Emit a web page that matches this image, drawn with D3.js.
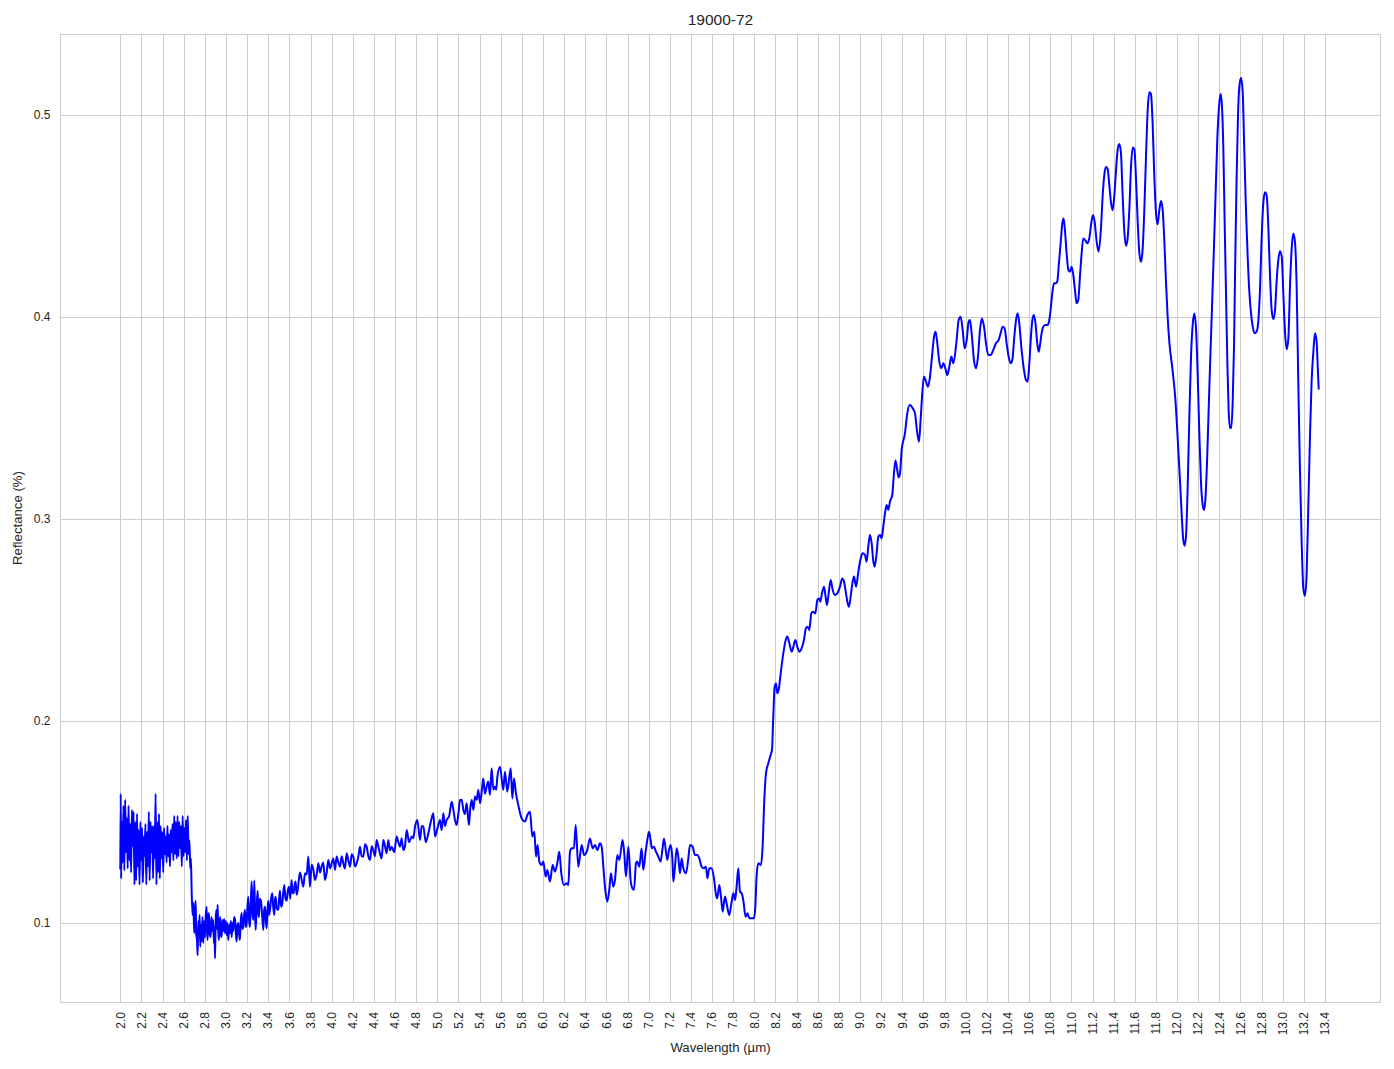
<!DOCTYPE html>
<html>
<head>
<meta charset="utf-8">
<script src="https://cdn.jsdelivr.net/npm/d3@7"></script>
<style>
  html, body { margin: 0; padding: 0; background: #ffffff; }
  svg { display: block; font-family: "Liberation Sans", Arial, sans-serif; }
</style>
</head>
<body>
<svg id="chart" width="1394" height="1069"></svg>
<script>
const chartTitle = "19000-72";
const xLabel = "Wavelength (µm)";
const yLabel = "Reflectance (%)";

const xTicks = [2.0,2.2,2.4,2.6,2.8,3.0,3.2,3.4,3.6,3.8,4.0,4.2,4.4,4.6,4.8,5.0,5.2,5.4,5.6,5.8,
  6.0,6.2,6.4,6.6,6.8,7.0,7.2,7.4,7.6,7.8,8.0,8.2,8.4,8.6,8.8,9.0,9.2,9.4,9.6,9.8,
  10.0,10.2,10.4,10.6,10.8,11.0,11.2,11.4,11.6,11.8,12.0,12.2,12.4,12.6,12.8,13.0,13.2,13.4];
const yTicks = [0.1, 0.2, 0.3, 0.4, 0.5];

// noisy band 2.0 - 2.67 µm
const wlBand1 = [2.000,2.004,2.008,2.015,2.022,2.030,2.038,2.046,2.054,2.062,2.070,2.078,2.086,2.094,2.102,2.110,2.118,2.126,2.134,2.142,2.150,2.158,2.166,2.174,2.182,2.190,2.198,2.206,2.214,2.222,2.230,2.238,2.246,2.254,2.262,2.270,2.278,2.286,2.294,2.302,2.310,2.318,2.326,2.334,2.342,2.350,2.358,2.366,2.374,2.382,2.390,2.398,2.406,2.414,2.422,2.430,2.438,2.446,2.454,2.462,2.470,2.478,2.486,2.494,2.502,2.510,2.518,2.526,2.534,2.542,2.550,2.558,2.566,2.574,2.582,2.590,2.598,2.606,2.614,2.622,2.630,2.638,2.646,2.654,2.662,2.668];
const rBand1 = [0.127,0.164,0.122,0.150,0.130,0.158,0.126,0.161,0.135,0.152,0.127,0.158,0.131,0.149,0.125,0.156,0.138,0.155,0.119,0.150,0.121,0.154,0.128,0.146,0.119,0.150,0.131,0.147,0.120,0.143,0.133,0.149,0.119,0.145,0.128,0.155,0.121,0.150,0.135,0.148,0.122,0.148,0.132,0.164,0.119,0.150,0.125,0.154,0.122,0.148,0.132,0.145,0.125,0.147,0.134,0.143,0.130,0.148,0.133,0.144,0.128,0.146,0.135,0.149,0.131,0.153,0.134,0.150,0.132,0.153,0.133,0.150,0.137,0.148,0.128,0.153,0.133,0.147,0.135,0.151,0.131,0.153,0.134,0.141,0.127,0.132];

// drop and low noisy band 2.67 - 3.70 µm
const wlBand2 = [2.675,2.684,2.691,2.700,2.707,2.713,2.719,2.726,2.732,2.738,2.744,2.750,2.757,2.763,2.770,2.777,2.785,2.793,2.801,2.809,2.817,2.822,2.826,2.832,2.839,2.847,2.855,2.863,2.871,2.878,2.886,2.891,2.896,2.902,2.908,2.914,2.921,2.927,2.934,2.940,2.946,2.952,2.959,2.967,2.975,2.982,2.990,2.998,3.006,3.014,3.022,3.030,3.038,3.046,3.054,3.061,3.069,3.077,3.085,3.093,3.101,3.109,3.117,3.125,3.132,3.140,3.148,3.156,3.164,3.172,3.180,3.188,3.196,3.203,3.211,3.219,3.227,3.235,3.243,3.251,3.259,3.268,3.275,3.281,3.290,3.300,3.306,3.312,3.320,3.331,3.342,3.353,3.361,3.369,3.377,3.385,3.392,3.400,3.408,3.417,3.427,3.438,3.447,3.457,3.463,3.470,3.482,3.495,3.503,3.511,3.522,3.533,3.542,3.552,3.563,3.574,3.585,3.596,3.608,3.621,3.630,3.640,3.650,3.659,3.668,3.678,3.689,3.700];
const rBand2 = [0.1163,0.104,0.110,0.095,0.106,0.111,0.094,0.0916,0.084,0.101,0.093,0.104,0.0883,0.099,0.091,0.103,0.090,0.101,0.093,0.104,0.108,0.095,0.0916,0.102,0.105,0.094,0.093,0.103,0.096,0.1015,0.090,0.098,0.0825,0.100,0.1065,0.097,0.109,0.096,0.0916,0.100,0.103,0.094,0.093,0.1015,0.096,0.102,0.095,0.101,0.094,0.100,0.0916,0.099,0.095,0.101,0.093,0.100,0.096,0.103,0.102,0.095,0.0908,0.099,0.100,0.094,0.0916,0.101,0.105,0.097,0.098,0.104,0.1065,0.098,0.100,0.108,0.113,0.101,0.098,0.110,0.1205,0.105,0.1015,0.121,0.104,0.0966,0.108,0.116,0.105,0.103,0.112,0.111,0.104,0.0966,0.106,0.108,0.101,0.0974,0.106,0.111,0.104,0.1065,0.112,0.1147,0.108,0.104,0.111,0.113,0.107,0.1065,0.112,0.116,0.108,0.1097,0.115,0.1188,0.112,0.111,0.116,0.118,0.112,0.1213,0.115,0.1147,0.119,0.1205,0.114,0.116,0.121,0.125];

// rising slope 3.7 - 5.6 µm
const wlBand3 = [3.732,3.748,3.764,3.779,3.795,3.811,3.827,3.842,3.858,3.874,3.890,3.905,3.921,3.937,3.953,3.968,3.984,4.000,4.016,4.032,4.047,4.063,4.079,4.095,4.110,4.126,4.142,4.158,4.174,4.190,4.205,4.221,4.237,4.253,4.268,4.284,4.300,4.316,4.331,4.347,4.363,4.379,4.394,4.410,4.426,4.441,4.457,4.473,4.489,4.505,4.520,4.536,4.552,4.568,4.592,4.615,4.631,4.647,4.662,4.678,4.694,4.710,4.733,4.757,4.773,4.789,4.811,4.836,4.852,4.867,4.891,4.915,4.938,4.962,4.978,5.002,5.025,5.041,5.057,5.072,5.088,5.112,5.136,5.152,5.167,5.183,5.199,5.214,5.230,5.246,5.262,5.277,5.299,5.312,5.325,5.341,5.356,5.372,5.388,5.404,5.420,5.435,5.451,5.467,5.482,5.498,5.514,5.530,5.546,5.557,5.568];
const rBand3 = [0.118,0.1246,0.1240,0.1329,0.118,0.1290,0.1263,0.1213,0.1240,0.1296,0.1250,0.1279,0.1300,0.1213,0.1250,0.1312,0.1270,0.1296,0.1320,0.1263,0.1329,0.1300,0.1279,0.1330,0.1296,0.1270,0.1345,0.1310,0.1279,0.1340,0.1329,0.1280,0.1296,0.1330,0.1378,0.1330,0.1329,0.1390,0.1378,0.1330,0.1312,0.1380,0.1361,0.1330,0.1411,0.1380,0.1345,0.1320,0.1411,0.1380,0.1345,0.1411,0.1360,0.1378,0.1350,0.1428,0.1400,0.1378,0.1420,0.1361,0.1380,0.1461,0.1400,0.1428,0.1420,0.1477,0.151,0.1411,0.1480,0.1477,0.1400,0.1444,0.1500,0.1543,0.1428,0.1470,0.151,0.1460,0.1543,0.1480,0.151,0.1530,0.160,0.1560,0.151,0.1485,0.1540,0.1609,0.1610,0.156,0.1540,0.1593,0.1485,0.1570,0.1609,0.1560,0.1626,0.1610,0.1659,0.1593,0.1650,0.1716,0.1640,0.1675,0.1700,0.1634,0.1766,0.1660,0.1675,0.1660,0.1724];

// 5.6 - 8.02 µm
const wlBand4 = [5.593,5.624,5.640,5.662,5.694,5.710,5.725,5.744,5.766,5.798,5.829,5.852,5.877,5.899,5.918,5.934,5.949,5.965,5.987,6.003,6.025,6.041,6.066,6.091,6.113,6.135,6.154,6.173,6.198,6.224,6.240,6.255,6.271,6.293,6.309,6.334,6.366,6.388,6.419,6.444,6.470,6.492,6.514,6.539,6.555,6.571,6.586,6.608,6.627,6.643,6.665,6.681,6.703,6.722,6.753,6.769,6.785,6.807,6.829,6.845,6.861,6.880,6.892,6.911,6.933,6.949,6.971,6.987,7.003,7.018,7.031,7.050,7.063,7.091,7.113,7.129,7.145,7.176,7.192,7.208,7.224,7.233,7.249,7.265,7.280,7.296,7.312,7.328,7.353,7.375,7.391,7.416,7.438,7.460,7.479,7.501,7.523,7.542,7.555,7.574,7.596,7.618,7.637,7.649,7.668,7.684,7.700,7.722,7.737,7.763,7.785,7.801,7.817,7.832,7.848,7.864,7.880,7.895,7.917,7.936,7.952,7.974,7.996,8.009,8.021];
const rBand4 = [0.1774,0.1659,0.1749,0.165,0.1766,0.1617,0.1716,0.1642,0.1584,0.1518,0.1502,0.1535,0.1551,0.1428,0.1452,0.1329,0.1386,0.1304,0.1287,0.1304,0.1230,0.1263,0.1205,0.1287,0.1254,0.1296,0.1353,0.1246,0.1188,0.1197,0.1188,0.1353,0.1370,0.1370,0.1485,0.1279,0.1386,0.1337,0.1361,0.1419,0.1370,0.1386,0.1361,0.1395,0.1378,0.1279,0.1180,0.1106,0.1164,0.1246,0.1180,0.1213,0.1337,0.1312,0.1411,0.1345,0.1230,0.1378,0.1213,0.1172,0.1164,0.1296,0.1304,0.1279,0.1370,0.1263,0.1353,0.1411,0.1452,0.1411,0.1370,0.1378,0.1361,0.1329,0.1304,0.1361,0.1419,0.1312,0.1361,0.1386,0.1320,0.1205,0.1279,0.1370,0.1329,0.1246,0.1320,0.1271,0.1246,0.1320,0.1386,0.1378,0.1337,0.1337,0.1320,0.1279,0.1271,0.1279,0.1221,0.1271,0.1271,0.1221,0.1139,0.1122,0.1188,0.1131,0.1056,0.1131,0.1098,0.1040,0.1106,0.1147,0.1114,0.1180,0.1271,0.1155,0.1147,0.1114,0.1031,0.1048,0.1023,0.1023,0.1023,0.1081,0.1230];

// steep rise 8.04 - 9.37 µm
const wlBand5 = [8.037,8.063,8.078,8.094,8.110,8.132,8.154,8.167,8.179,8.192,8.205,8.217,8.230,8.249,8.274,8.293,8.312,8.331,8.353,8.369,8.388,8.406,8.425,8.447,8.469,8.488,8.504,8.520,8.539,8.558,8.577,8.596,8.611,8.624,8.640,8.659,8.674,8.687,8.703,8.722,8.741,8.760,8.785,8.810,8.832,8.848,8.867,8.883,8.895,8.911,8.930,8.943,8.962,8.984,9.006,9.025,9.047,9.062,9.078,9.094,9.110,9.126,9.138,9.157,9.173,9.189,9.204,9.220,9.236,9.252,9.267,9.283,9.305,9.320,9.335,9.350,9.365];
const rBand5 = [0.1296,0.1287,0.1378,0.1609,0.1741,0.1791,0.1832,0.1857,0.2022,0.2170,0.2186,0.2137,0.2154,0.2236,0.2335,0.2393,0.2418,0.2385,0.2343,0.2368,0.2401,0.2368,0.2343,0.2360,0.2401,0.2459,0.2467,0.2451,0.2533,0.2541,0.2533,0.2599,0.2607,0.2591,0.2632,0.2665,0.2616,0.2574,0.2632,0.2698,0.2649,0.2624,0.2632,0.2665,0.2706,0.2690,0.2632,0.2583,0.2566,0.2616,0.2690,0.2715,0.2665,0.2739,0.2805,0.2830,0.2822,0.2789,0.2863,0.2921,0.2879,0.2789,0.2764,0.2830,0.2912,0.2921,0.2904,0.2962,0.3028,0.3069,0.3045,0.3086,0.312,0.322,0.329,0.325,0.3205];

// 9.38 - 11.26 µm
const wlBand6 = [9.378,9.394,9.425,9.447,9.472,9.498,9.520,9.542,9.558,9.573,9.589,9.605,9.624,9.643,9.662,9.681,9.700,9.715,9.731,9.750,9.769,9.788,9.807,9.826,9.845,9.864,9.883,9.914,9.933,9.952,9.971,9.990,10.009,10.028,10.040,10.056,10.078,10.097,10.116,10.135,10.154,10.173,10.192,10.214,10.236,10.261,10.286,10.311,10.330,10.349,10.368,10.387,10.406,10.425,10.441,10.460,10.476,10.491,10.507,10.526,10.551,10.570,10.586,10.602,10.617,10.633,10.646,10.662,10.677,10.690,10.703,10.718,10.734,10.753,10.772,10.788,10.803,10.819,10.835,10.851,10.866,10.882,10.898,10.914,10.926,10.939,10.955,10.971,10.986,11.002,11.018,11.034,11.049,11.065,11.081,11.097,11.112,11.131,11.150,11.169,11.188,11.204,11.220,11.239,11.258];
const rBand6 = [0.3226,0.3342,0.3424,0.3523,0.3564,0.3548,0.3523,0.3424,0.3383,0.3490,0.3622,0.3705,0.3680,0.3655,0.3705,0.3804,0.3903,0.3927,0.3870,0.3779,0.3746,0.3771,0.3746,0.3713,0.3754,0.3804,0.3771,0.3886,0.3985,0.4001,0.3936,0.3845,0.3886,0.3977,0.3985,0.3919,0.3787,0.3746,0.3804,0.3936,0.3993,0.3952,0.3870,0.3812,0.3812,0.3837,0.3870,0.3886,0.3919,0.3952,0.3944,0.3870,0.3804,0.3771,0.3787,0.3903,0.3985,0.4018,0.3969,0.3853,0.3738,0.3688,0.3680,0.3771,0.3903,0.3993,0.4010,0.3960,0.3870,0.3828,0.3861,0.3919,0.3952,0.3960,0.3960,0.3977,0.4034,0.4117,0.4167,0.4167,0.4175,0.4266,0.4365,0.4464,0.4488,0.4430,0.4315,0.4233,0.4224,0.4249,0.4208,0.4133,0.4068,0.4084,0.4200,0.4315,0.4389,0.4381,0.4365,0.4389,0.4464,0.4505,0.4472,0.4373,0.4323];

// 11.28 - 13.34 µm
const wlBand7 = [11.280,11.296,11.312,11.328,11.343,11.359,11.375,11.391,11.406,11.422,11.438,11.454,11.469,11.485,11.501,11.517,11.532,11.548,11.564,11.580,11.596,11.611,11.627,11.643,11.659,11.674,11.690,11.706,11.722,11.738,11.753,11.769,11.785,11.801,11.816,11.832,11.848,11.864,11.880,11.895,11.911,11.927,11.958,11.984,12.006,12.028,12.047,12.059,12.072,12.085,12.100,12.116,12.132,12.148,12.163,12.179,12.195,12.211,12.226,12.242,12.255,12.268,12.283,12.305,12.324,12.343,12.362,12.381,12.400,12.413,12.425,12.438,12.450,12.463,12.476,12.488,12.501,12.513,12.526,12.539,12.551,12.564,12.577,12.589,12.605,12.621,12.636,12.652,12.668,12.684,12.700,12.715,12.734,12.753,12.769,12.785,12.800,12.816,12.832,12.848,12.864,12.879,12.895,12.911,12.927,12.942,12.958,12.974,12.990,13.005,13.021,13.037,13.053,13.069,13.084,13.100,13.116,13.132,13.147,13.163,13.179,13.195,13.210,13.226,13.242,13.258,13.273,13.289,13.305,13.321,13.330,13.340];
const rBand7 = [0.4441,0.4600,0.4706,0.4742,0.4733,0.4653,0.4565,0.4529,0.4600,0.4724,0.4830,0.4857,0.4812,0.4600,0.4423,0.4353,0.4388,0.4529,0.4742,0.4839,0.4830,0.4689,0.4476,0.4317,0.4273,0.4335,0.4529,0.4795,0.5025,0.5113,0.5104,0.4954,0.4689,0.4512,0.4459,0.4529,0.4574,0.4529,0.4370,0.4176,0.3999,0.3875,0.3734,0.3592,0.3398,0.3186,0.2991,0.2894,0.2868,0.2920,0.3150,0.3504,0.3804,0.3964,0.4017,0.3946,0.3716,0.3416,0.3186,0.3071,0.3044,0.3097,0.3274,0.3646,0.3946,0.4247,0.4565,0.4883,0.5060,0.5104,0.5042,0.4830,0.4476,0.4123,0.3769,0.3539,0.3451,0.3451,0.3575,0.3858,0.4300,0.4706,0.5007,0.5139,0.5184,0.5113,0.4830,0.4529,0.4300,0.4123,0.4017,0.3955,0.3919,0.3928,0.3981,0.4140,0.4388,0.4565,0.4618,0.4600,0.4441,0.4211,0.4034,0.3990,0.4034,0.4176,0.4282,0.4326,0.4300,0.4123,0.3928,0.3840,0.3893,0.4158,0.4335,0.4414,0.4370,0.4140,0.3681,0.3239,0.2885,0.2655,0.2620,0.2726,0.3062,0.3416,0.3681,0.3822,0.3919,0.3875,0.3769,0.3646];

const wavelengths = [].concat(wlBand1, wlBand2, wlBand3, wlBand4, wlBand5, wlBand6, wlBand7);
const reflectance = [].concat(rBand1, rBand2, rBand3, rBand4, rBand5, rBand6, rBand7);

(function draw() {
  const data = wavelengths.map((w, i) => ({ x: w, y: reflectance[i] }));
  const svg = d3.select("#chart");
  const pL = 60.5, pR = 1380.5, pT = 34, pB = 1002;
  const W = pR - pL, H = pB - pT;

  const x = d3.scaleLinear().domain([1.4341, 13.925]).range([pL, pR]);
  const y = d3.scaleLinear().domain([0.0609, 0.5401]).range([pB, pT]);

  const gridColor = "#cccccc";
  const textColor = "#262626";

  const gGrid = svg.append("g");
  gGrid.selectAll("line.vx").data(xTicks).enter().append("line")
    .attr("x1", d => Math.round(x(d)) + 0.5).attr("x2", d => Math.round(x(d)) + 0.5)
    .attr("y1", pT).attr("y2", pB)
    .attr("stroke", gridColor).attr("stroke-width", 1);
  gGrid.selectAll("line.hy").data(yTicks).enter().append("line")
    .attr("x1", pL).attr("x2", pR)
    .attr("y1", d => Math.round(y(d)) + 0.5).attr("y2", d => Math.round(y(d)) + 0.5)
    .attr("stroke", gridColor).attr("stroke-width", 1);

  svg.append("rect").attr("x", pL).attr("y", pT + 0.5).attr("width", W).attr("height", H)
    .attr("fill", "none").attr("stroke", gridColor).attr("stroke-width", 1);

  svg.append("clipPath").attr("id", "clip").append("rect")
    .attr("x", pL).attr("y", pT).attr("width", W).attr("height", H);
  const line = d3.line().x(d => x(d.x)).y(d => y(d.y)).curve(d3.curveMonotoneX);
  svg.append("path").datum(data).attr("clip-path", "url(#clip)")
    .attr("d", line).attr("fill", "none").attr("stroke", "#0000ff")
    .attr("stroke-width", 2).attr("stroke-linejoin", "round").attr("stroke-linecap", "square");

  svg.append("g").selectAll("text").data(xTicks).enter().append("text")
    .attr("transform", d => `translate(${x(d)},${pB + 10}) rotate(-90)`)
    .attr("text-anchor", "end").attr("dy", "0.35em")
    .attr("font-size", 12).attr("fill", textColor)
    .text(d => d.toFixed(1));

  svg.append("g").selectAll("text").data(yTicks).enter().append("text")
    .attr("x", pL - 10).attr("y", d => y(d)).attr("dy", "0.35em")
    .attr("text-anchor", "end").attr("font-size", 12).attr("fill", textColor)
    .text(d => d.toFixed(1));

  svg.append("text").attr("x", (pL + pR) / 2).attr("y", 25)
    .attr("text-anchor", "middle").attr("font-size", 15.5).attr("fill", textColor).text(chartTitle);
  svg.append("text").attr("x", (pL + pR) / 2).attr("y", 1052)
    .attr("text-anchor", "middle").attr("font-size", 13.2).attr("fill", textColor).text(xLabel);
  svg.append("text").attr("transform", `translate(22,${(pT + pB) / 2}) rotate(-90)`)
    .attr("text-anchor", "middle").attr("font-size", 13.2).attr("fill", textColor).text(yLabel);
})();
</script>
</body>
</html>
